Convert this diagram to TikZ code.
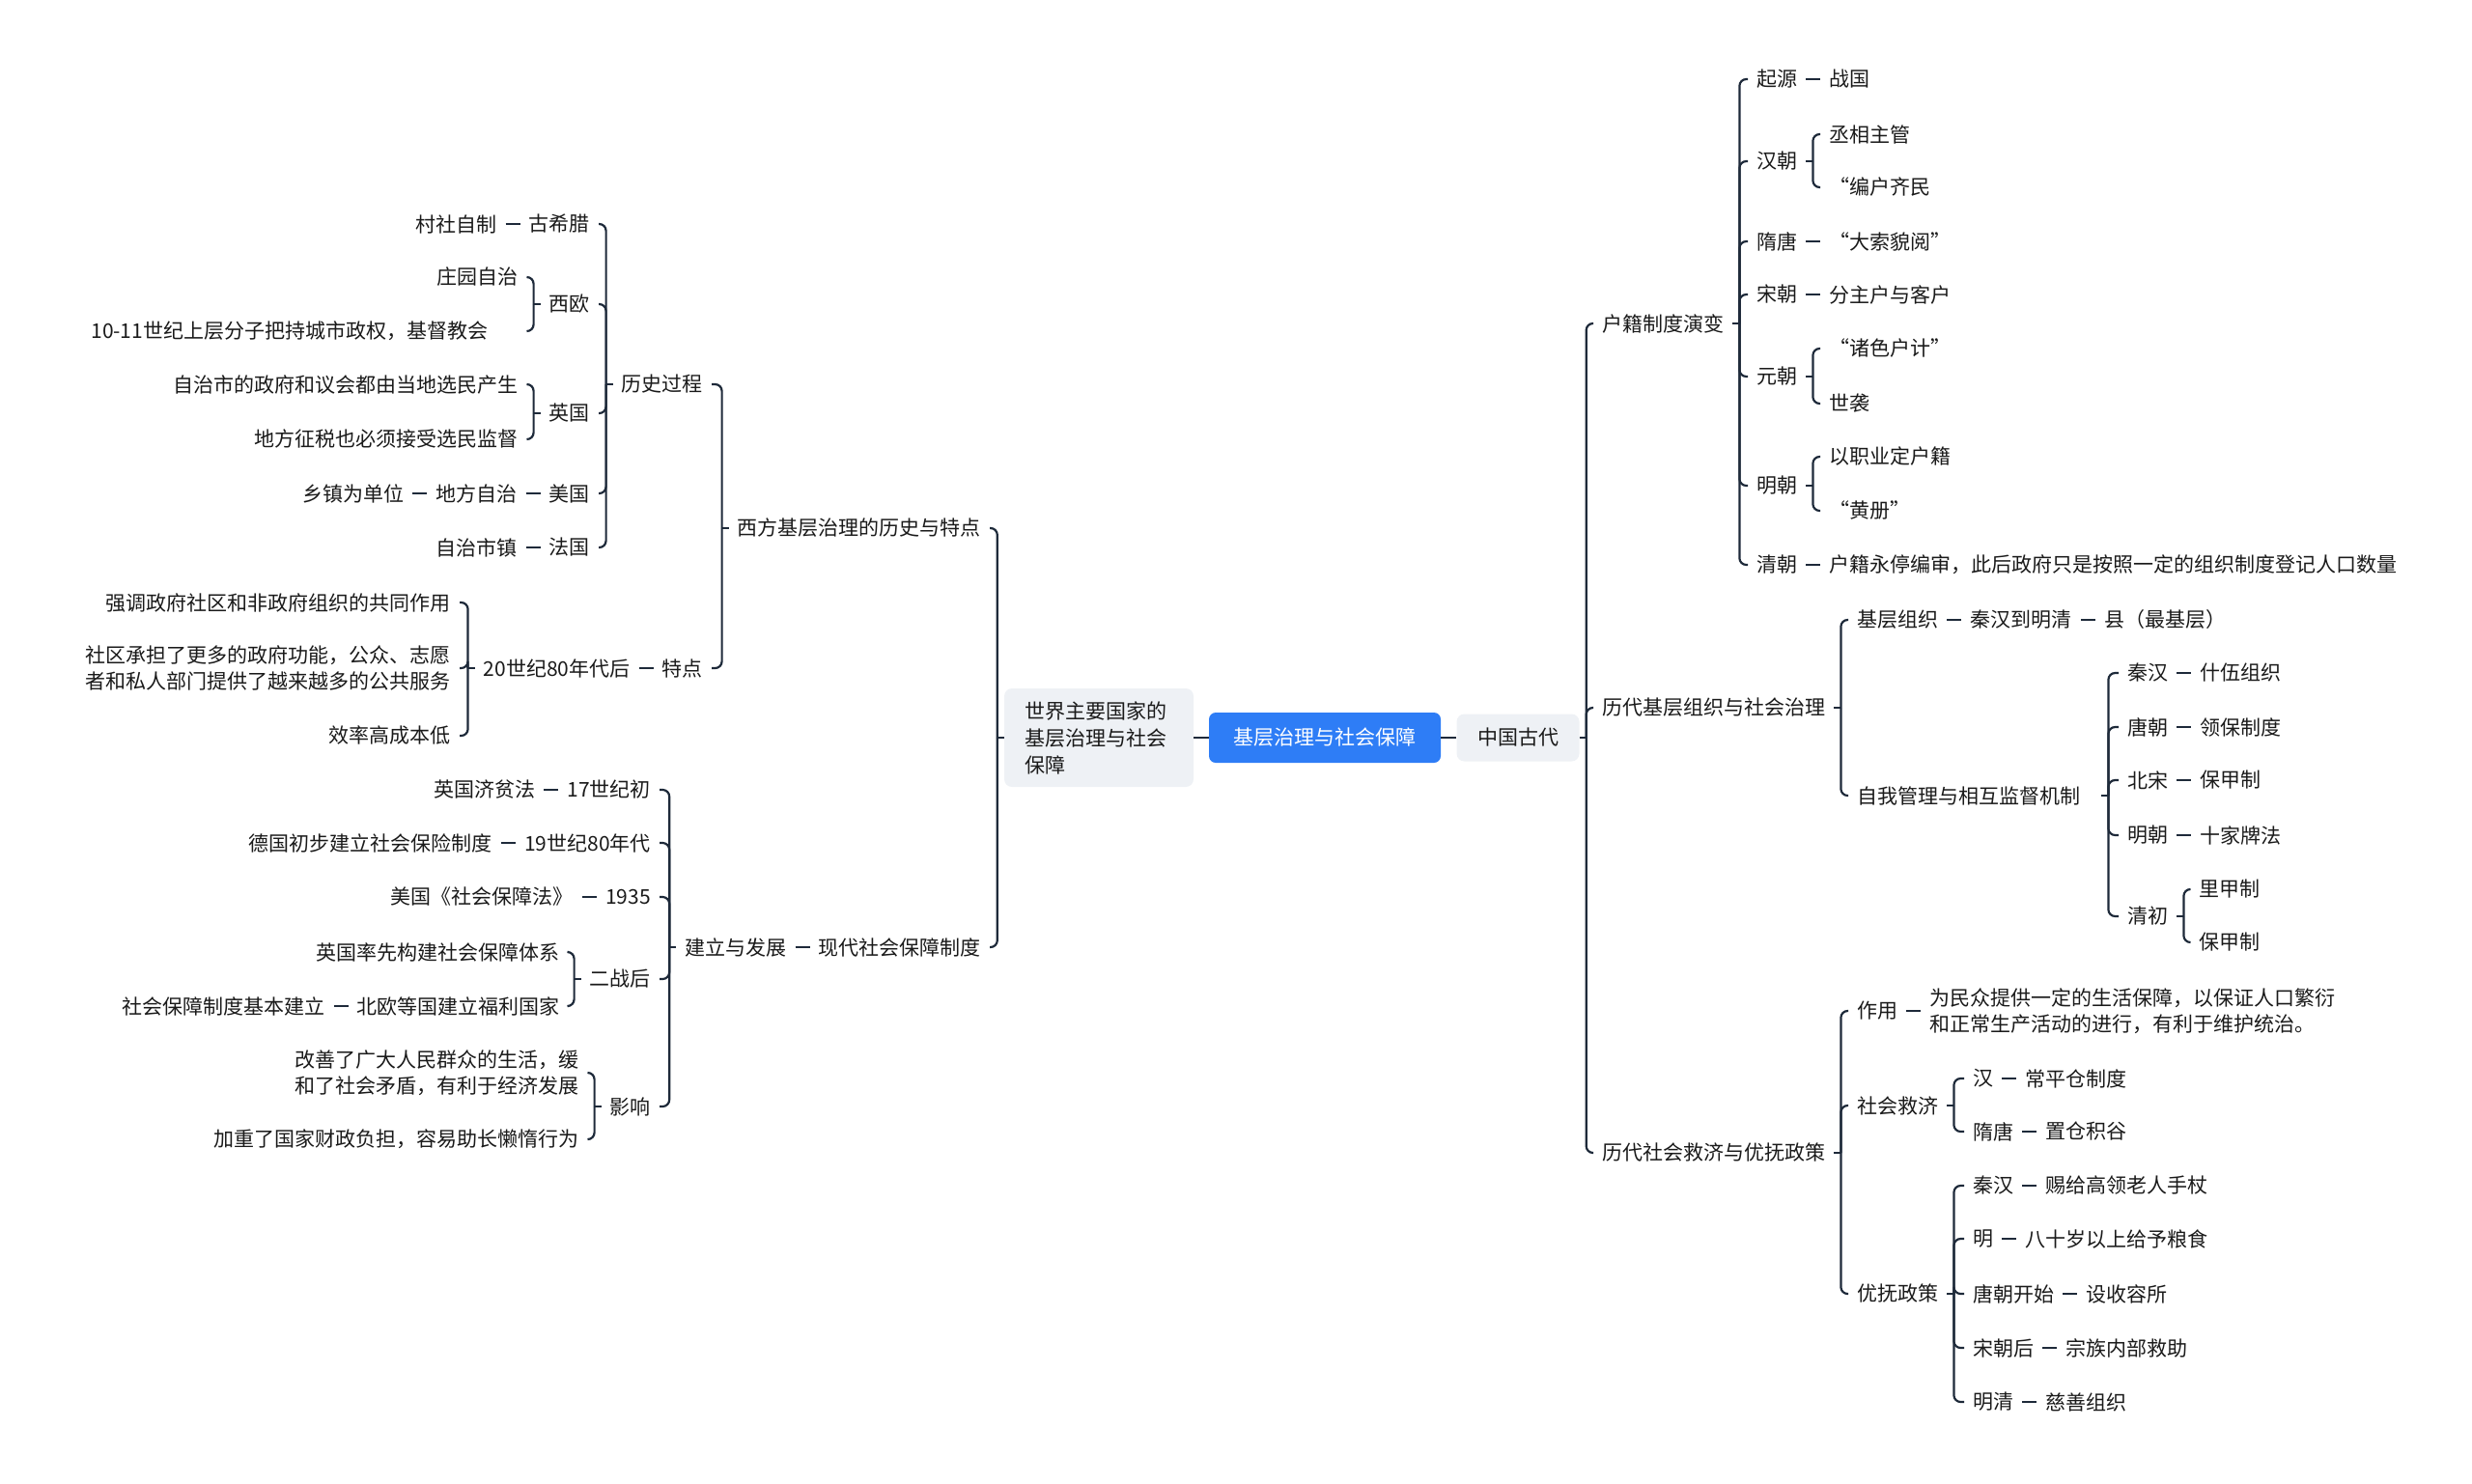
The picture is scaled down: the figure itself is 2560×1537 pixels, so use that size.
\documentclass[tikz,border=0pt]{standalone}
\usepackage{fontspec}
\setmainfont{Noto Sans CJK SC}
\usetikzlibrary{positioning}

\definecolor{linkc}{RGB}{30,42,58}
\definecolor{txtc}{RGB}{26,26,26}
\definecolor{rootc}{RGB}{46,125,246}
\definecolor{boxc}{RGB}{238,241,245}

\tikzset{
	every node/.style={font=\fontsize{21}{27}\selectfont, text=txtc},
	item/.style={inner xsep=9pt, inner ysep=4pt, align=left},
	topic/.style={fill=boxc, rounded corners=8pt, inner sep=0pt, minimum height=49pt},
	rootbox/.style={fill=rootc, text=white, rounded corners=7pt, inner sep=0pt, minimum width=240pt, minimum height=52pt},
	link/.style={draw=linkc, line width=2.2pt},
	curl/.style={link, rounded corners=7pt},
}

\newcommand{\branchR}[3][0]{%
	\draw[link] ([xshift=#1]#2.east) -- ++(7,0) coordinate (bx);
	\foreach \ch in {#3} \draw[curl] (bx) |- (\ch.west);
}
\newcommand{\branchL}[3][0]{%
	\draw[link] ([xshift=-#1]#2.west) -- ++(-7,0) coordinate (bx);
	\foreach \ch in {#3} \draw[curl] (bx) |- (\ch.east);
}

\begin{document}
\begin{tikzpicture}[x=1pt, y=-1pt]
		\useasboundingbox (0,0) rectangle (2560,1537);

		\node[rootbox] (root) at (1372,764) {基层治理与社会保障};
		\node[topic, minimum width=196pt, minimum height=102pt, text width=154pt, inner xsep=21pt] (sjzy) at (1138,764) {世界主要国家的\\[1pt]基层治理与社会\\[1pt]保障};
		\node[topic, minimum width=127pt] (zgzd) at (1572,764) {中国古代};

		\draw[link] (sjzy.east) -- (root.west);
		\draw[link] (root.east) -- (zgzd.west);

		% left
		\node[item, anchor=east] (xflsd) at (1025,547) {西方基层治理的历史与特点};
		\node[item, anchor=east] (xdsb) at (1025,981) {现代社会保障制度};
		\node[item, left=15pt of xdsb] (jlfz) {建立与发展};
		\branchL{sjzy}{xflsd,xdsb}
		\draw[link] (jlfz.east) -- (xdsb.west);

		\node[item, anchor=east] (lsgc) at (737,398) {历史过程};
		\node[item, anchor=east] (tedian) at (737,692) {特点};
		\node[item, left=15pt of tedian] (n80) {20世纪80年代后};
		\branchL{xflsd}{lsgc,tedian}
		\draw[link] (n80.east) -- (tedian.west);

		\node[item, anchor=east] (gxl) at (620,232) {古希腊};
		\node[item, left=15pt of gxl] (czzz) {村社自制};
		\node[item, anchor=east] (xo) at (620,315) {西欧};
		\node[item, anchor=east] (yg) at (620,428) {英国};
		\node[item, anchor=east] (mg) at (620,511) {美国};
		\node[item, left=15pt of mg] (dfzz) {地方自治};
		\node[item, left=15pt of dfzz] (xzdw) {乡镇为单位};
		\node[item, anchor=east] (fg) at (620,567) {法国};
		\node[item, left=15pt of fg] (zzsz) {自治市镇};
		\branchL{lsgc}{gxl,xo,yg,mg,fg}
		\draw[link] (czzz.east) -- (gxl.west);
		\draw[link] (dfzz.east) -- (mg.west);
		\draw[link] (xzdw.east) -- (dfzz.west);
		\draw[link] (zzsz.east) -- (fg.west);

		\node[item, anchor=east] (zyzz) at (546,287) {庄园自治};
		\node[item, anchor=east] (sjsc) at (546,343) {10-11世纪上层分子把持城市政权，基督教会\hspace{1.5em}};
		\branchL{xo}{zyzz,sjsc}
		\node[item, anchor=east] (zzs) at (546,398) {自治市的政府和议会都由当地选民产生};
		\node[item, anchor=east] (dfzs) at (546,455) {地方征税也必须接受选民监督};
		\branchL{yg}{zzs,dfzs}

		\node[item, anchor=east] (qd) at (476,624) {强调政府社区和非政府组织的共同作用};
		\node[item, anchor=east] (sq) at (476,692) {社区承担了更多的政府功能，公众、志愿\\者和私人部门提供了越来越多的公共服务};
		\node[item, anchor=east] (xl) at (476,762) {效率高成本低};
		\branchL{n80}{qd,sq,xl}

		\node[item, anchor=east] (sj17) at (683,818) {17世纪初};
		\node[item, left=15pt of sj17] (jpf) {英国济贫法};
		\node[item, anchor=east] (sj19) at (683,873) {19世纪80年代};
		\node[item, left=15pt of sj19] (dgbx) {德国初步建立社会保险制度};
		\node[item, anchor=east] (n1935) at (683,929) {1935};
		\node[item, left=15pt of n1935] (mgbz) {美国《社会保障法》};
		\node[item, anchor=east] (ezh) at (683,1014) {二战后};
		\node[item, anchor=east] (yx) at (683,1146) {影响};
		\branchL{jlfz}{sj17,sj19,n1935,ezh,yx}
		\draw[link] (jpf.east) -- (sj17.west);
		\draw[link] (dgbx.east) -- (sj19.west);
		\draw[link] (mgbz.east) -- (n1935.west);

		\node[item, anchor=east] (ygsx) at (589,986) {英国率先构建社会保障体系};
		\node[item, anchor=east] (byfl) at (589,1042) {北欧等国建立福利国家};
		\node[item, left=15pt of byfl] (sbjl) {社会保障制度基本建立};
		\branchL{ezh}{ygsx,byfl}
		\draw[link] (sbjl.east) -- (byfl.west);

		\node[item, anchor=east] (gs) at (609,1111) {改善了广大人民群众的生活，缓\\和了社会矛盾，有利于经济发展};
		\node[item, anchor=east] (jz) at (609,1180) {加重了国家财政负担，容易助长懒惰行为};
		\branchL{yx}{gs,jz}

		% right
		\node[item, anchor=west] (hjzd) at (1650,335) {户籍制度演变};
		\node[item, anchor=west] (jczz) at (1650,733) {历代基层组织与社会治理};
		\node[item, anchor=west] (shjj) at (1650,1194) {历代社会救济与优抚政策};
		\branchR{zgzd}{hjzd,jczz,shjj}

		\node[item, anchor=west] (qiyuan) at (1810,82) {起源};
		\node[item, right=15pt of qiyuan] (zhanguo) {战国};
		\node[item, anchor=west] (hanchao) at (1810,167) {汉朝};
		\node[item, anchor=west] (suitang) at (1810,250) {隋唐};
		\node[item, right=15pt of suitang] (dsmy) {“大索貌阅”};
		\node[item, anchor=west] (songchao) at (1810,305) {宋朝};
		\node[item, right=15pt of songchao] (fzh) {分主户与客户};
		\node[item, anchor=west] (yuanchao) at (1810,390) {元朝};
		\node[item, anchor=west] (mingchao) at (1810,503) {明朝};
		\node[item, anchor=west] (qingchao) at (1810,585) {清朝};
		\node[item, right=15pt of qingchao] (ytbs) {户籍永停编审，此后政府只是按照一定的组织制度登记人口数量};
		\branchR{hjzd}{qiyuan,hanchao,suitang,songchao,yuanchao,mingchao,qingchao}
		\draw[link] (qiyuan.east) -- (zhanguo.west);
		\draw[link] (suitang.east) -- (dsmy.west);
		\draw[link] (songchao.east) -- (fzh.west);
		\draw[link] (qingchao.east) -- (ytbs.west);

		\node[item, anchor=west] (cxzg) at (1885,139) {丞相主管};
		\node[item, anchor=west] (bhqm) at (1885,194) {“编户齐民};
		\branchR{hanchao}{cxzg,bhqm}
		\node[item, anchor=west] (zshj) at (1885,361) {“诸色户计”};
		\node[item, anchor=west] (shixi) at (1885,418) {世袭};
		\branchR{yuanchao}{zshj,shixi}
		\node[item, anchor=west] (yzy) at (1885,473) {以职业定户籍};
		\node[item, anchor=west] (huangce) at (1885,529) {“黄册”};
		\branchR{mingchao}{yzy,huangce}

		\node[item, anchor=west] (jczzB) at (1914,642) {基层组织};
		\node[item, right=15pt of jczzB] (qhmq) {秦汉到明清};
		\node[item, right=15pt of qhmq] (xian) {县（最基层）};
		\node[item, anchor=west] (zwgl) at (1914,824) {自我管理与相互监督机制};
		\branchR{jczz}{jczzB,zwgl}
		\draw[link] (jczzB.east) -- (qhmq.west);
		\draw[link] (qhmq.east) -- (xian.west);

		\node[item, anchor=west] (qinhan) at (2194,697) {秦汉};
		\node[item, right=15pt of qinhan] (shiwu) {什伍组织};
		\node[item, anchor=west] (tangchao) at (2194,753) {唐朝};
		\node[item, right=15pt of tangchao] (lbzd) {领保制度};
		\node[item, anchor=west] (beisong) at (2194,808) {北宋};
		\node[item, right=15pt of beisong] (bjzA) {保甲制};
		\node[item, anchor=west] (mingchaoB) at (2194,865) {明朝};
		\node[item, right=15pt of mingchaoB] (sjpf) {十家牌法};
		\node[item, anchor=west] (qingchu) at (2194,949) {清初};
		\branchR[13]{zwgl}{qinhan,tangchao,beisong,mingchaoB,qingchu}
		\draw[link] (qinhan.east) -- (shiwu.west);
		\draw[link] (tangchao.east) -- (lbzd.west);
		\draw[link] (beisong.east) -- (bjzA.west);
		\draw[link] (mingchaoB.east) -- (sjpf.west);

		\node[item, anchor=west] (ljz) at (2268,921) {里甲制};
		\node[item, anchor=west] (bjzB) at (2268,976) {保甲制};
		\branchR{qingchu}{ljz,bjzB}

		\node[item, anchor=west] (zuoyong) at (1914,1047) {作用};
		\node[item, right=15pt of zuoyong] (zytext) {为民众提供一定的生活保障，以保证人口繁衍\\和正常生产活动的进行，有利于维护统治。};
		\node[item, anchor=west] (shjjB) at (1914,1145) {社会救济};
		\node[item, anchor=west] (yfzc) at (1914,1340) {优抚政策};
		\branchR{shjj}{zuoyong,shjjB,yfzc}
		\draw[link] (zuoyong.east) -- (zuoyong.east -| zytext.west);

		\node[item, anchor=west] (han) at (2034,1117) {汉};
		\node[item, right=15pt of han] (cpc) {常平仓制度};
		\node[item, anchor=west] (suitangB) at (2034,1172) {隋唐};
		\node[item, right=15pt of suitangB] (zcjg) {置仓积谷};
		\branchR{shjjB}{han,suitangB}
		\draw[link] (han.east) -- (cpc.west);
		\draw[link] (suitangB.east) -- (zcjg.west);

		\node[item, anchor=west] (qinhanB) at (2034,1228) {秦汉};
		\node[item, right=15pt of qinhanB] (cggl) {赐给高领老人手杖};
		\node[item, anchor=west] (ming) at (2034,1283) {明};
		\node[item, right=15pt of ming] (bsys) {八十岁以上给予粮食};
		\node[item, anchor=west] (tcks) at (2034,1340) {唐朝开始};
		\node[item, right=15pt of tcks] (sry) {设收容所};
		\node[item, anchor=west] (schou) at (2034,1396) {宋朝后};
		\node[item, right=15pt of schou] (zznb) {宗族内部救助};
		\node[item, anchor=west] (mingqing) at (2034,1452) {明清};
		\node[item, right=15pt of mingqing] (cszz) {慈善组织};
		\branchR{yfzc}{qinhanB,ming,tcks,schou,mingqing}
		\draw[link] (qinhanB.east) -- (cggl.west);
		\draw[link] (ming.east) -- (bsys.west);
		\draw[link] (tcks.east) -- (sry.west);
		\draw[link] (schou.east) -- (zznb.west);
		\draw[link] (mingqing.east) -- (cszz.west);

	\end{tikzpicture}
\end{document}
